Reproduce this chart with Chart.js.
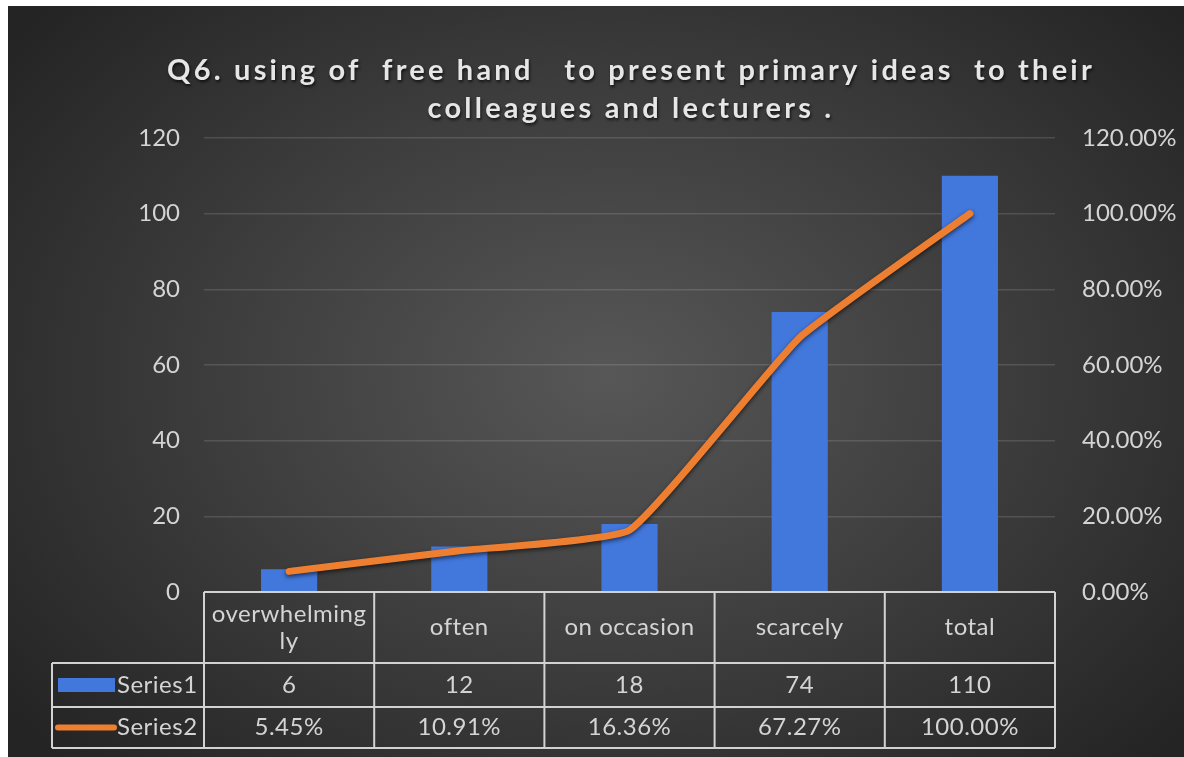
<!DOCTYPE html>
<html>
<head>
<meta charset="utf-8">
<script src="https://cdn.jsdelivr.net/npm/chart.js@4.4.1/dist/chart.umd.min.js"></script>
<style>
  html, body { margin: 0; padding: 0; background: #ffffff; width: 1184px; height: 757px; overflow: hidden; }
  #wrap { position: absolute; left: 8px; top: 6px; width: 1176px; height: 751px; }
</style>
</head>
<body>
<div id="wrap"><canvas id="chart" width="1176" height="751"></canvas></div>
<script>
// Survey answers for Q6
const categories = [['overwhelming', 'ly'], 'often', 'on occasion', 'scarcely', 'total'];
const series1 = [6, 12, 18, 74, 110];                    // counts
const series2 = [5.45, 10.91, 16.36, 67.27, 100.00];     // cumulative percent
const leftTicks = { min: 0, max: 120, step: 20 };
const rightTicks = { min: 0, max: 120, step: 20 };
const titleLines = ['Q6. using of  free hand   to present primary ideas  to their', 'colleagues and lecturers .'];
const seriesNames = ['Series1', 'Series2'];

const FONT = 'Lato, "Open Sans", sans-serif';
const TEXT = '#d4d4d4';
const BLUE = '#4277db';
const ORANGE = '#ee7f30';
const TEXT_SIZE = 24;

// dark radial backdrop
const backdrop = {
  id: 'backdrop',
  beforeDraw(chart) {
    const { ctx, width, height } = chart;
    ctx.save();
    ctx.fillStyle = '#262626';
    ctx.fillRect(0, 0, width, height);
    ctx.translate(600, 370);
    ctx.scale(1, 0.72);
    const g = ctx.createRadialGradient(0, 0, 0, 0, 0, 760);
    g.addColorStop(0, '#575757');
    g.addColorStop(0.5, '#3e3e3e');
    g.addColorStop(1, '#242424');
    ctx.fillStyle = g;
    ctx.fillRect(-900, -900, 1800, 1800);
    ctx.restore();
  }
};

// bold spaced heading with soft shadow
const heading = {
  id: 'heading',
  afterDraw(chart) {
    const { ctx } = chart;
    ctx.save();
    ctx.font = 'bold 29px ' + FONT;
    ctx.letterSpacing = '3.2px';
    ctx.fillStyle = '#e6e6e6';
    ctx.textAlign = 'center';
    ctx.textBaseline = 'middle';
    ctx.shadowColor = 'rgba(0,0,0,0.7)';
    ctx.shadowBlur = 3;
    ctx.shadowOffsetX = 1;
    ctx.shadowOffsetY = 2;
    ctx.fillText(titleLines[0], 623, 65);
    ctx.fillText(titleLines[1], 623, 103);
    ctx.restore();
  }
};

// shadow under the line series
const lineShadow = {
  id: 'lineShadow',
  beforeDatasetDraw(chart, args) {
    if (args.meta.type !== 'line') return;
    const ctx = chart.ctx;
    ctx.save();
    ctx.shadowColor = 'rgba(0,0,0,0.6)';
    ctx.shadowBlur = 4;
    ctx.shadowOffsetY = 2;
  },
  afterDatasetDraw(chart, args) {
    if (args.meta.type !== 'line') return;
    chart.ctx.restore();
  }
};

// data table under the plot
const dataTable = {
  id: 'dataTable',
  afterDraw(chart) {
    const { ctx, chartArea: area, scales: { x } } = chart;
    const n = categories.length;
    const cw = (area.right - area.left) / n;
    const top = area.bottom;
    const r1 = top + 71, r2 = top + 115, r3 = top + 156;
    const legendLeft = 44;
    ctx.save();
    ctx.strokeStyle = '#d2d2d2';
    ctx.lineWidth = 2;
    ctx.beginPath();
    ctx.moveTo(area.left, top); ctx.lineTo(area.right, top);
    [r1, r2, r3].forEach(y => { ctx.moveTo(legendLeft, y); ctx.lineTo(area.right, y); });
    for (let i = 0; i <= n; i++) {
      const xp = x.getPixelForValue(0) - cw / 2 + i * cw;
      ctx.moveTo(xp, top); ctx.lineTo(xp, r3);
    }
    ctx.moveTo(legendLeft, r1); ctx.lineTo(legendLeft, r3);
    ctx.stroke();

    ctx.fillStyle = TEXT;
    ctx.font = TEXT_SIZE + 'px ' + FONT;
    ctx.letterSpacing = '0.5px';
    ctx.textAlign = 'center';
    ctx.textBaseline = 'middle';
    categories.forEach((c, i) => {
      const cx = x.getPixelForValue(i);
      const lines = Array.isArray(c) ? c : [c];
      const lh = 27;
      const y0 = (top + r1) / 2 - (lines.length - 1) * lh / 2;
      lines.forEach((t, k) => ctx.fillText(t, cx, y0 + k * lh));
      ctx.fillText(String(series1[i]), cx, (r1 + r2) / 2);
      ctx.fillText(series2[i].toFixed(2) + '%', cx, (r2 + r3) / 2);
    });

    // legend keys
    const m1 = (r1 + r2) / 2, m2 = (r2 + r3) / 2;
    ctx.fillStyle = BLUE;
    ctx.fillRect(50, m1 - 7, 57, 14);
    ctx.strokeStyle = ORANGE;
    ctx.lineWidth = 6;
    ctx.lineCap = 'round';
    ctx.beginPath();
    ctx.moveTo(50, m2); ctx.lineTo(106, m2);
    ctx.stroke();
    ctx.fillStyle = TEXT;
    ctx.textAlign = 'left';
    ctx.fillText(seriesNames[0], 109, m1);
    ctx.fillText(seriesNames[1], 109, m2);
    ctx.restore();
  }
};

new Chart(document.getElementById('chart'), {
  data: {
    labels: categories,
    datasets: [
      {
        type: 'line', label: seriesNames[1], data: series2, yAxisID: 'y1',
        borderColor: ORANGE, borderWidth: 7, pointRadius: 0, tension: 0.12,
        borderCapStyle: 'round', borderJoinStyle: 'round', order: 0
      },
      {
        type: 'bar', label: seriesNames[0], data: series1, yAxisID: 'y',
        backgroundColor: BLUE, barPercentage: 0.33, categoryPercentage: 1, order: 1
      }
    ]
  },
  options: {
    responsive: false,
    animation: false,
    layout: { padding: { top: 132, bottom: 165, left: 0, right: 0 } },
    plugins: { legend: { display: false }, title: { display: false }, tooltip: { enabled: false } },
    scales: {
      x: { display: false },
      y: {
        position: 'left', min: leftTicks.min, max: leftTicks.max,
        ticks: { stepSize: leftTicks.step, color: TEXT, font: { family: FONT, size: TEXT_SIZE }, padding: 24 },
        grid: { color: 'rgba(255,255,255,0.13)', lineWidth: 1.5, drawTicks: false },
        border: { display: false },
        afterFit(s) { s.width = 196; }
      },
      y1: {
        position: 'right', min: rightTicks.min, max: rightTicks.max,
        ticks: { stepSize: rightTicks.step, color: TEXT, font: { family: FONT, size: TEXT_SIZE }, padding: 27,
                 callback: v => Number(v).toFixed(2) + '%' },
        grid: { display: false, drawTicks: false },
        border: { display: false },
        afterFit(s) { s.width = 129; }
      }
    }
  },
  plugins: [backdrop, heading, lineShadow, dataTable]
});
</script>
</body>
</html>
